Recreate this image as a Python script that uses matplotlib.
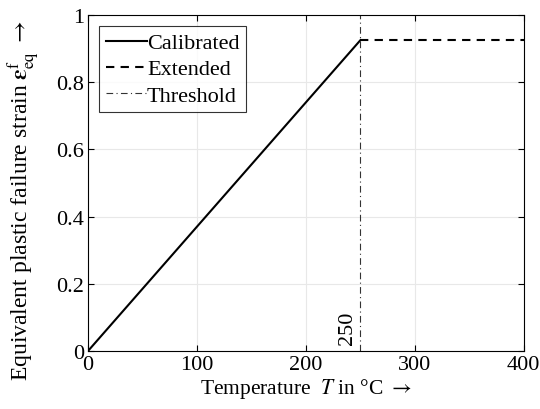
import numpy as np
import matplotlib.pyplot as plt

plt.rcParams['font.family'] = ['Liberation Serif', 'DejaVu Serif']
plt.rcParams['mathtext.fontset'] = 'stix'

# data
calib_T = [0, 250]
calib_eps = [0, 0.925]
ext_T = [250, 400]
ext_eps = [0.925, 0.925]
threshold_T = 250

fig = plt.figure(figsize=(5.4, 4.1), dpi=100)
ax = fig.add_axes([0.163, 0.1415, 0.807, 0.8195])

fs = 16
ax.plot(calib_T, calib_eps, color='black', linestyle='-', linewidth=1.5, label='Calibrated')
ax.plot(ext_T, ext_eps, color='black', linestyle=(0, (4, 3)), linewidth=1.5, label='Extended')
ax.axvline(threshold_T, color='#333333', linestyle=(0, (6, 3, 1, 3)), linewidth=0.8, label='Threshold')
ax.text(threshold_T - 3, 0.02, str(threshold_T), rotation=90, ha='right', va='bottom', fontsize=fs)

ax.set_xlim(0, 400)
ax.set_ylim(0, 1)
ax.set_xticks([0, 100, 200, 300, 400])
ax.set_yticks([0, 0.2, 0.4, 0.6, 0.8, 1])
ax.set_yticklabels(['0', '0.2', '0.4', '0.6', '0.8', '1'])
ax.tick_params(direction='in', top=True, right=True, labelsize=fs, length=4, pad=3)
ax.grid(color='#e8e8e8', linewidth=0.8)
ax.set_axisbelow(True)
for s in ax.spines.values():
    s.set_linewidth(0.8)

ax.set_xlabel(r'Temperature  $T$ in °C $\rightarrow$', fontsize=15.5, labelpad=1)
ax.set_ylabel(r'Equivalent plastic failure strain $\boldsymbol{\varepsilon}^{\rm f}_{\rm eq}$ $\rightarrow$',
              fontsize=17)
ax.yaxis.set_label_coords(-0.105, 0.45)

leg = ax.legend(loc='upper left', fontsize=fs, fancybox=False, edgecolor='black',
                handlelength=1.85, handletextpad=0.0, borderpad=0.3, labelspacing=0.25,
                borderaxespad=0.5)
leg.get_frame().set_linewidth(0.8)

fig.savefig('out.png', dpi=100)
